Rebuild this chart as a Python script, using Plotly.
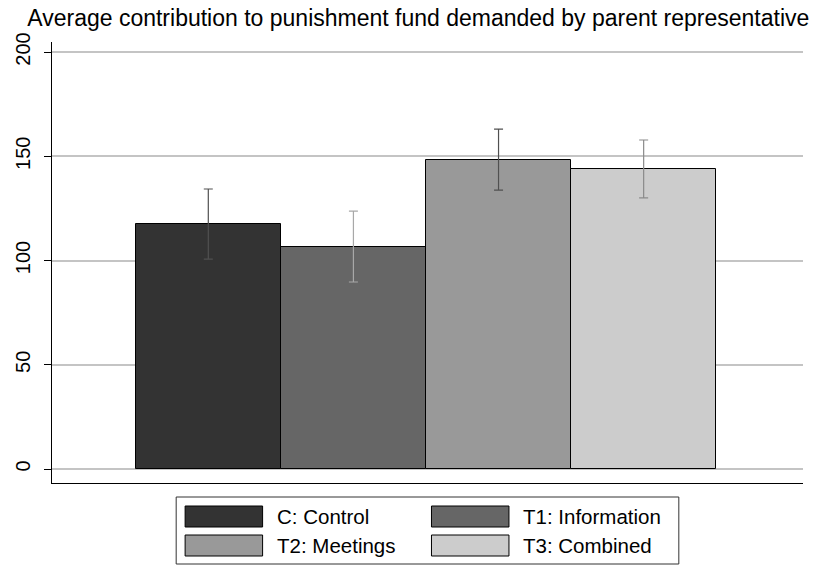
import plotly.graph_objects as go

# data
groups = ["C: Control", "T1: Information", "T2: Meetings", "T3: Combined"]
means = [117.5, 106.5, 148.2, 143.9]
ci_low = [100.7, 89.7, 133.8, 130.0]
ci_high = [134.3, 123.7, 163.0, 157.8]
y_ticks = [0, 50, 100, 150, 200]

fills = ["#333333", "#666666", "#999999", "#cccccc"]
err_colors = ["#505050", "#a8a8a8", "#505050", "#8a8a8a"]

W, H = 817, 568
ML, MR, MT, MB = 47, 14, 42, 85
PW, PH = W - ML - MR, H - MT - MB


def px(x):
    return (x - ML) / PW


def py(y):
    return (H - MB - y) / PH


fig = go.Figure()
for i, g in enumerate(groups):
    fig.add_trace(go.Bar(
        x=[i], y=[means[i]], width=1, name=g, showlegend=False,
        marker=dict(color=fills[i], line=dict(color="black", width=1)),
        error_y=dict(type="data", symmetric=False,
                     array=[ci_high[i] - means[i]],
                     arrayminus=[means[i] - ci_low[i]],
                     color=err_colors[i], thickness=1.2, width=4.5),
    ))

# legend drawn by hand to get Stata-like wide swatches
shapes = [dict(type="rect", xref="paper", yref="paper",
               x0=px(172), x1=px(678), y0=py(564), y1=py(497),
               line=dict(color="#333333", width=1), fillcolor="white")]
annotations = []
slots = [(181, 506), (429, 506), (181, 535), (429, 535)]
for (sx, sy), g, c in zip(slots, groups, fills):
    shapes.append(dict(type="rect", xref="paper", yref="paper",
                       x0=px(sx), x1=px(sx + 78), y0=py(sy + 21), y1=py(sy),
                       line=dict(color="black", width=1), fillcolor=c))
    annotations.append(dict(text=g, xref="paper", yref="paper",
                            x=px(sx + 90), y=py(sy + 10.5), xanchor="left",
                            yanchor="middle", showarrow=False,
                            font=dict(size=20.5, color="black")))

fig.update_layout(
    width=W, height=H,
    margin=dict(l=ML, r=MR, t=MT, b=MB),
    paper_bgcolor="white", plot_bgcolor="white",
    barmode="overlay", bargap=0,
    font=dict(family="Liberation Sans, Arial, sans-serif", color="black"),
    title=dict(text="Average contribution to punishment fund demanded by parent representative",
               x=0.512, xanchor="center", y=0.968, yanchor="middle",
               font=dict(size=23, color="black")),
    xaxis=dict(range=[-1.077, 4.098], showticklabels=False, ticks="",
               showgrid=False, zeroline=False,
               showline=True, linecolor="black", linewidth=1),
    yaxis=dict(range=[-14 * 200 / 417, 200 + 10 * 200 / 417],
               tickvals=y_ticks, tickangle=-90, ticks="outside", ticklen=7,
               ticklabelstandoff=6,
               tickcolor="black", tickfont=dict(size=20),
               showgrid=True, gridcolor="#c4c4c4", gridwidth=1.5,
               zeroline=False, showline=True, linecolor="black", linewidth=1),
    shapes=shapes, annotations=annotations,
)

fig.write_html("out.html", config={"displayModeBar": False},
               post_script="document.body.style.margin='0';")
